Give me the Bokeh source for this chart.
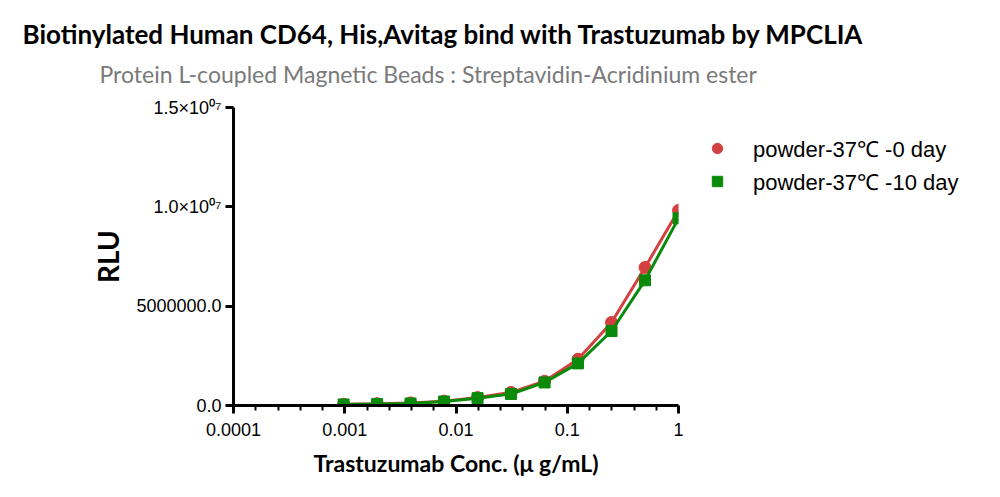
from bokeh.plotting import figure
from bokeh.models import (FixedTicker, CustomJSTickFormatter, Range1d, Title,
                          Legend, LegendItem)
from bokeh.embed import file_html
from bokeh.resources import INLINE

# ---- data ----
conc = [1.0, 0.5, 0.25, 0.125, 0.0625, 0.03125, 0.015625, 0.0078125,
        0.00390625, 0.001953125, 0.0009765625]
rlu_day0 = [9.82e6, 6.95e6, 4.18e6, 2.33e6, 1.22e6, 0.66e6, 0.40e6, 0.22e6,
            0.13e6, 0.09e6, 0.06e6]
rlu_day10 = [9.42e6, 6.30e6, 3.75e6, 2.12e6, 1.16e6, 0.58e6, 0.37e6, 0.20e6,
             0.10e6, 0.07e6, 0.05e6]
series_names = ["powder-37\u2103 -0 day", "powder-37\u2103 -10 day"]
x_ticks = [0.0001, 0.001, 0.01, 0.1, 1.0]
x_tick_labels = ["0.0001", "0.001", "0.01", "0.1", "1"]
y_ticks = [0.0, 5e6, 1e7, 1.5e7]
y_tick_labels = ["0.0", "5000000.0", "1.0\u00d710\u2070\u2077", "1.5\u00d710\u2070\u2077"]

title_text = "Biotinylated Human CD64, His,Avitag bind with Trastuzumab by MPCLIA"
subtitle_text = "Protein L-coupled Magnetic Beads : Streptavidin-Acridinium ester"
x_label = "Trastuzumab Conc. (\u03bc g/mL)"
y_label = "RLU"

RED = "#D2413F"
GREEN = "#0A8A0A"

p = figure(frame_width=445, frame_height=298, x_axis_type="log",
           output_backend="svg", toolbar_location=None,
           x_range=Range1d(0.0001, 1.0), y_range=Range1d(0, 1.5e7),
           min_border_left=233, min_border_right=0,
           min_border_top=107, min_border_bottom=92)
p.outline_line_color = None
p.grid.visible = False
p.background_fill_color = "white"
p.border_fill_color = "white"

r0l = p.line(conc, rlu_day0, line_color=RED, line_width=3)
r0m = p.scatter(conc, rlu_day0, marker="circle", size=12, fill_color=RED,
                line_color=RED)
r1l = p.line(conc, rlu_day10, line_color=GREEN, line_width=3)
r1m = p.scatter(conc, rlu_day10, marker="square", size=11, fill_color=GREEN,
                line_color=GREEN)

# axes
minor = []
for k in range(-4, 0):
    for j in range(1, 5):
        minor.append(10 ** (k + j / 5))
xa = p.xaxis[0]
xa.ticker = FixedTicker(ticks=x_ticks, minor_ticks=minor)
xa.formatter = CustomJSTickFormatter(args=dict(labels=x_tick_labels), code="""
    const e = Math.round(Math.log10(tick));
    return labels[e + 4];
""")
ya = p.yaxis[0]
ya.ticker = FixedTicker(ticks=y_ticks, minor_ticks=[])
ya.formatter = CustomJSTickFormatter(args=dict(labels=y_tick_labels), code="""
    return labels[Math.round(tick / 5e6)];
""")
for ax in (xa, ya):
    ax.axis_line_width = 3
    ax.axis_line_color = "black"
    ax.major_tick_line_width = 3
    ax.major_tick_line_color = "black"
    ax.minor_tick_line_width = 2
    ax.minor_tick_line_color = "black"
    ax.major_tick_out = 8
    ax.major_tick_in = 0
    ax.minor_tick_out = 5
    ax.minor_tick_in = 0
    ax.major_label_text_font = "Liberation Sans"
    ax.major_label_text_font_size = "18px"
    ax.major_label_text_color = "black"
    ax.axis_label_text_font = "Lato"
    ax.axis_label_text_font_style = "bold"
    ax.axis_label_text_color = "black"
xa.axis_label = x_label
xa.axis_label_text_font_size = "23px"
xa.major_label_standoff = 9
xa.axis_label_standoff = 10
ya.axis_label = y_label
ya.axis_label_text_font_size = "28px"
ya.major_label_standoff = 4
ya.axis_label_standoff = 8

legend = Legend(items=[LegendItem(label=series_names[0], renderers=[r0m]),
                       LegendItem(label=series_names[1], renderers=[r1m])],
                location="top_left", border_line_color=None,
                background_fill_alpha=0, label_text_font="Liberation Sans",
                label_text_font_size="22px", label_text_color="black",
                glyph_width=26, glyph_height=26, spacing=3, label_standoff=23,
                padding=0, margin=26)
p.add_layout(legend, "right")

p.add_layout(Title(text=subtitle_text, text_font="Lato", align="left",
                   offset=-134, text_font_size="23px", text_color="#7a7a7a",
                   text_font_style="normal", standoff=40), "above")
p.add_layout(Title(text=title_text, text_font="Lato", align="left",
                   offset=-211, text_font_size="26px", text_color="black",
                   text_font_style="bold", standoff=-24), "above")

open("out.html", "w").write(file_html(p, INLINE))
